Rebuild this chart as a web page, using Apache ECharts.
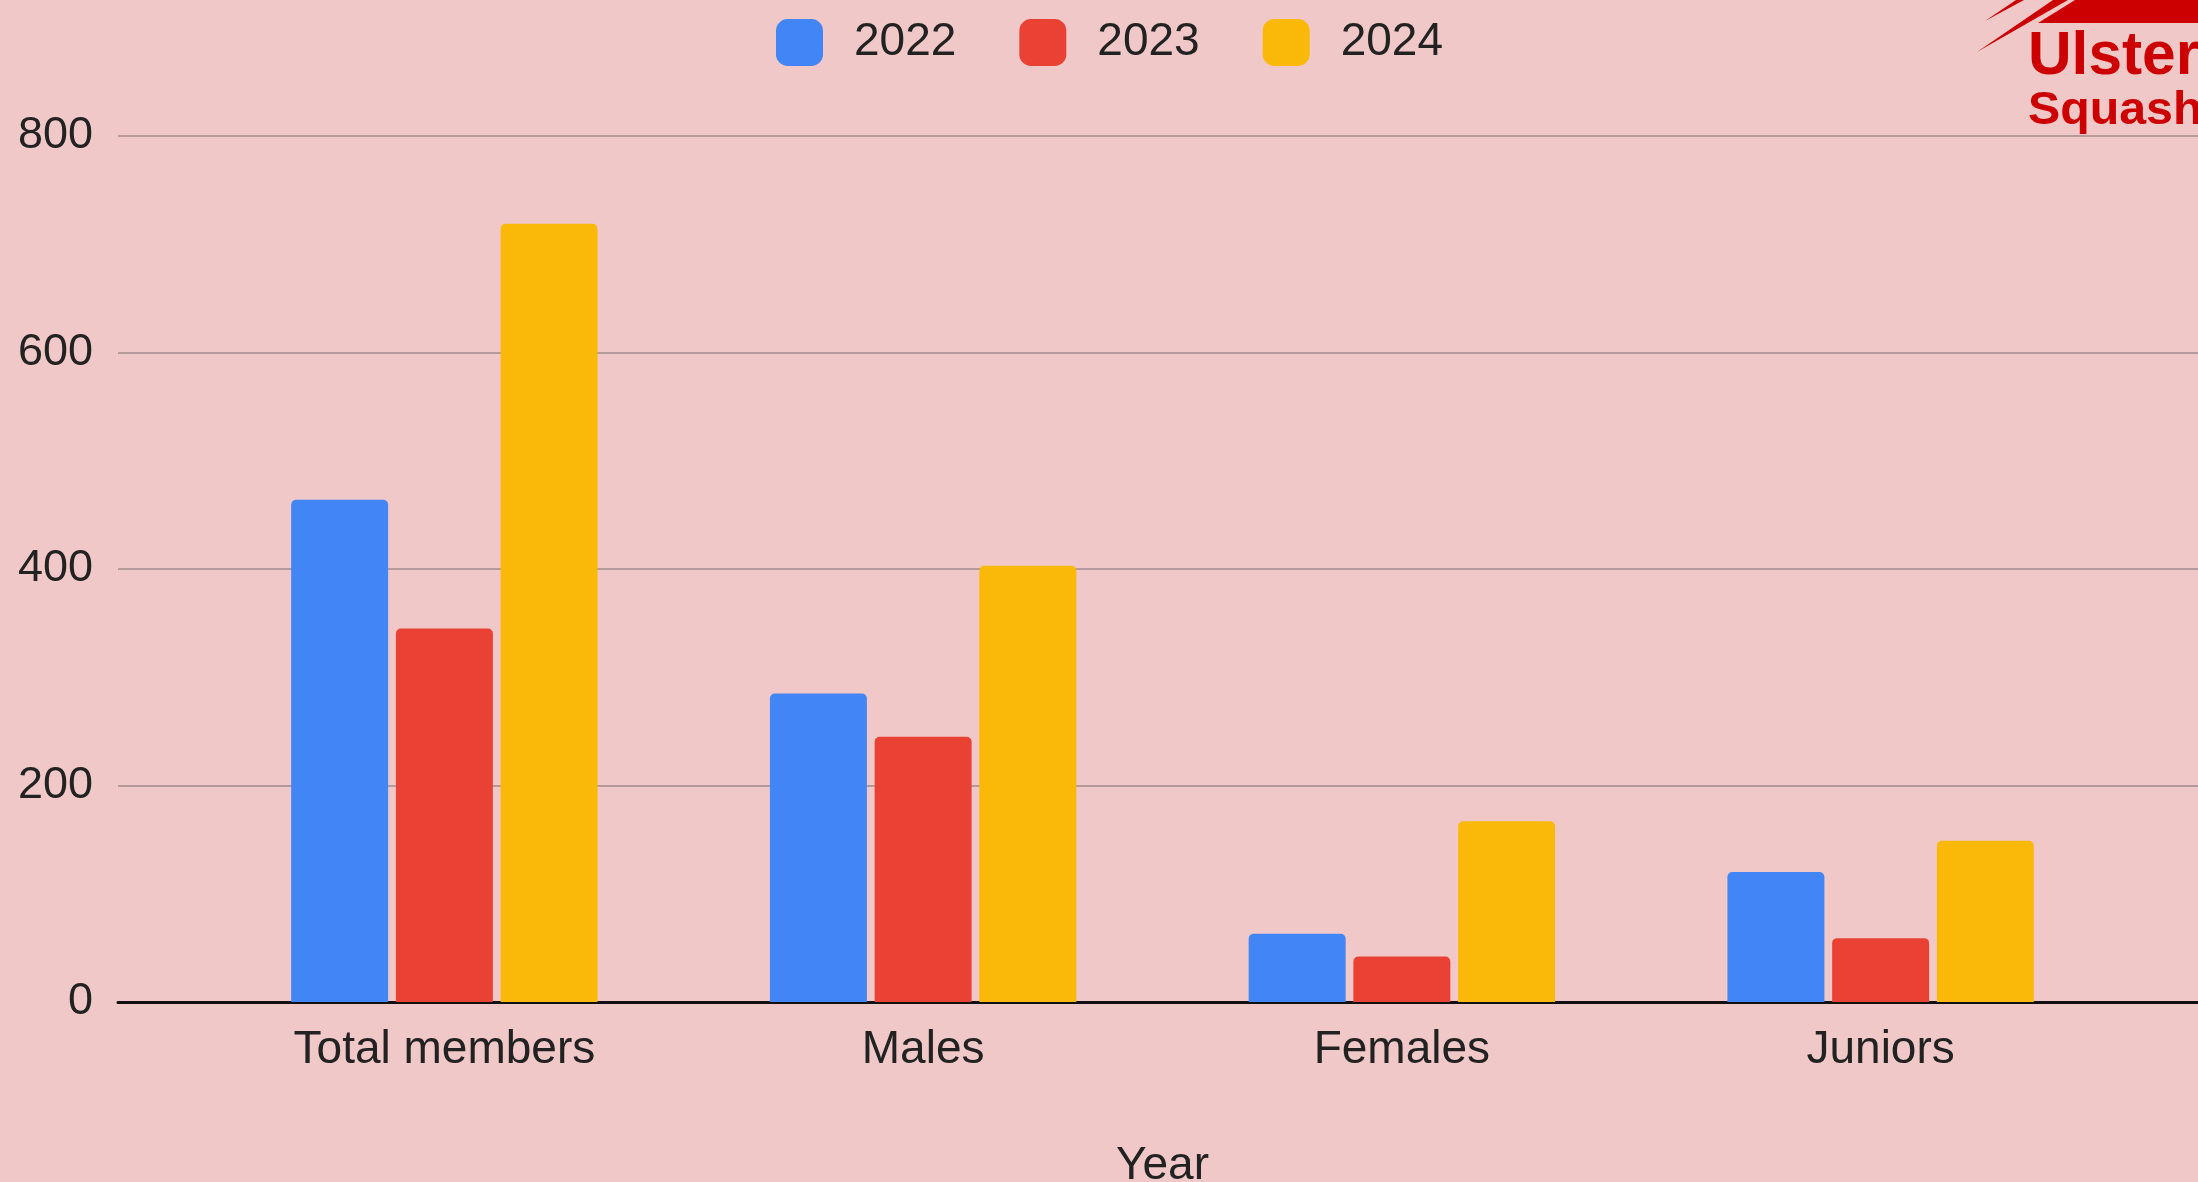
<!DOCTYPE html>
<html>
<head>
<meta charset="utf-8">
<script src="https://cdn.jsdelivr.net/npm/echarts@6/dist/echarts.min.js"></script>
<style>
html,body{margin:0;padding:0;background:#F1C8C8;}
#c{width:2198px;height:1182px;}
</style>
</head>
<body>
<div id="c"></div>
<script>
const categories = ['Total members', 'Males', 'Females', 'Juniors'];
const seriesNames = ['2022', '2023', '2024'];
const values2022 = [464, 285, 63, 120];
const values2023 = [345, 245, 42, 59];
const values2024 = [719, 403, 167, 149];
const yTicks = [0, 200, 400, 600, 800];
const colors = ['#4285F4', '#E94235', '#FAB908'];

const FONT = '"Liberation Sans", Arial, sans-serif';
const chart = echarts.init(document.getElementById('c'));

const barBase = {
  type: 'bar',
  xAxisIndex: 0,
  yAxisIndex: 0,
  barCategoryGap: '36%',
  barGap: '8%',
  emphasis: { disabled: true }
};

chart.setOption({
  backgroundColor: '#F1C8C8',
  animation: false,
  textStyle: { fontFamily: FONT },
  legend: {
    left: 771, top: 14,
    itemWidth: 47, itemHeight: 47, itemGap: 63,
    icon: 'roundRect',
    data: seriesNames,
    textStyle: { fontSize: 46, color: '#222', fontFamily: FONT, padding: [0, 0, 0, 26] }
  },
  grid: [
    { left: 205, right: 78, top: 136, bottom: 180, outerBoundsMode: 'none', containLabel: false },
    { left: 118, right: 0, top: 136, bottom: 180, outerBoundsMode: 'none', containLabel: false }
  ],
  xAxis: [
    {
      type: 'category', gridIndex: 0, data: categories,
      axisLine: { show: false }, axisTick: { show: false },
      axisLabel: { fontSize: 46, color: '#222', margin: 25, fontFamily: FONT },
      name: 'Year', nameLocation: 'middle', nameGap: 141,
      nameTextStyle: { fontSize: 46, color: '#222', fontFamily: FONT }
    },
    {
      type: 'value', gridIndex: 1, min: 0, max: 1,
      axisLine: { show: true, lineStyle: { color: '#111', width: 3 } },
      axisTick: { show: false }, axisLabel: { show: false }, splitLine: { show: false }
    }
  ],
  yAxis: [
    {
      type: 'value', gridIndex: 0, min: yTicks[0], max: yTicks[yTicks.length - 1], interval: 200,
      axisLine: { show: false }, axisTick: { show: false }, axisLabel: { show: false }, splitLine: { show: false }
    },
    {
      type: 'value', gridIndex: 1, min: yTicks[0], max: yTicks[yTicks.length - 1], interval: 200,
      axisLine: { show: false }, axisTick: { show: false },
      axisLabel: { fontSize: 45, color: '#222', margin: 25, fontFamily: FONT, padding: [4, 0, 0, 0] },
      splitLine: { show: true, lineStyle: { color: '#B59A9C', width: 2 } }
    }
  ],
  series: [
    Object.assign({}, barBase, { name: seriesNames[0], data: values2022, itemStyle: { color: colors[0], borderRadius: [5, 5, 0, 0] } }),
    Object.assign({}, barBase, { name: seriesNames[1], data: values2023, itemStyle: { color: colors[1], borderRadius: [5, 5, 0, 0] } }),
    Object.assign({}, barBase, { name: seriesNames[2], data: values2024, itemStyle: { color: colors[2], borderRadius: [5, 5, 0, 0] } })
  ],
  graphic: [
    { type: 'polygon', shape: { points: [[2038, 23], [2075, 0], [2198, 0], [2198, 23]] }, style: { fill: '#CC0000' }, z: 10 },
    { type: 'polygon', shape: { points: [[1985, 21], [2016, 0], [2024, 0]] }, style: { fill: '#CC0000' }, z: 10 },
    { type: 'polygon', shape: { points: [[1977, 52], [2053, 0], [2068, 0]] }, style: { fill: '#CC0000' }, z: 10 },
    { type: 'text', x: 2028, y: 27, scaleX: 0.99, z: 10, style: { text: 'Ulster', fill: '#CC0000', font: 'bold 61px "Liberation Sans", Arial, sans-serif' } },
    { type: 'text', x: 2028, y: 88, scaleX: 1.05, z: 10, style: { text: 'Squash', fill: '#CC0000', font: 'bold 46px "Liberation Sans", Arial, sans-serif' } }
  ]
});
</script>
</body>
</html>
